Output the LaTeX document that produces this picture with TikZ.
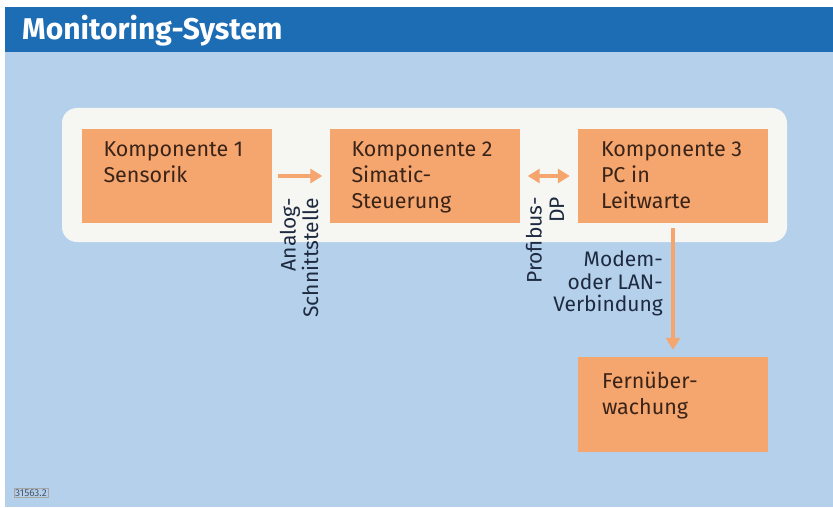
\documentclass[tikz,border=0pt]{standalone}
\usepackage{fontspec}
\setmainfont{Fira Sans}
\usetikzlibrary{arrows.meta}
\definecolor{titleblue}{HTML}{1D6DB5}
\definecolor{bgblue}{HTML}{B4D0EB}
\definecolor{panelwhite}{HTML}{F6F7F3}
\definecolor{boxorange}{HTML}{F5A56E}
\definecolor{boxtext}{HTML}{3A2418}
\definecolor{labeltext}{HTML}{1E2A40}
\tikzset{
  compbox/.style={fill=boxorange, draw=none, minimum width=190pt, minimum height=94pt, inner sep=0pt},
  comptext/.style={anchor=north west, align=left, inner sep=0pt, text=boxtext, font=\fontsize{21.5}{26}\selectfont},
  linklabel/.style={align=right, inner sep=0pt, text=labeltext, font=\fontsize{21}{22.5}\selectfont},
  orarrow/.style={draw=boxorange, line width=4.5pt, -{Triangle[width=14pt,length=12pt]}},
  orbiarrow/.style={draw=boxorange, line width=4.5pt, {Triangle[width=14pt,length=12pt]}-{Triangle[width=14pt,length=12pt]}},
}
\begin{document}
\begin{tikzpicture}[x=1pt,y=1pt]
\useasboundingbox (0,0) rectangle (833,507);
\fill[white] (0,0) rectangle (833,507);
\fill[bgblue] (5,0) rectangle (833,455);
\fill[titleblue] (5,455) rectangle (833,500);
\node[anchor=base west, inner sep=0pt, text=white, font=\fontsize{30}{34}\selectfont\bfseries] (title) at (22,467) {Monitoring-System};
% panel
\fill[panelwhite, rounded corners=15pt] (62,265) rectangle (787,399);
% boxes
\node[compbox] (b1) at (176.5,331) {};
\node[compbox] (b2) at (424.5,331) {};
\node[compbox] (b3) at (673,331) {};
\node[compbox, minimum height=95pt] (b4) at (673,102.5) {};
\node[comptext] (t1) at ([shift={(22,-13)}]b1.north west) {Komponente 1\\Sensorik};
\node[comptext] (t2) at ([shift={(22,-13)}]b2.north west) {Komponente 2\\Simatic-\\Steuerung};
\node[comptext] (t3) at ([shift={(23,-13)}]b3.north west) {Komponente 3\\PC in\\Leitwarte};
\node[comptext] (t4) at ([shift={(24,-15)}]b4.north west) {Fernüber-\\wachung};
% connectors
\draw[orarrow, shorten <=6pt, shorten >=7pt] (b1.east) -- (b2.west);
\draw[orbiarrow, shorten <=8pt, shorten >=8pt] (b2.east) -- (b3.west);
\draw[orarrow, shorten <=5pt, shorten >=7pt] (b3.south) -- (b4.north);
% labels
\node[linklabel, rotate=90, anchor=east] (l1) at (299,309) {Analog-\\Schnittstelle};
\node[linklabel, rotate=90, anchor=east] (l2) at (545,310) {Profibus-\\DP};
\node[linklabel, anchor=north east] (l3) at (663,256) {Modem-\\oder LAN-\\Verbindung};
% figure number
\node[draw=gray!70, line width=0.4pt, inner sep=1pt, text=labeltext!80, font=\fontsize{10}{11}\selectfont] (fig) at (31,14) {31563.2};
\end{tikzpicture}
\end{document}
